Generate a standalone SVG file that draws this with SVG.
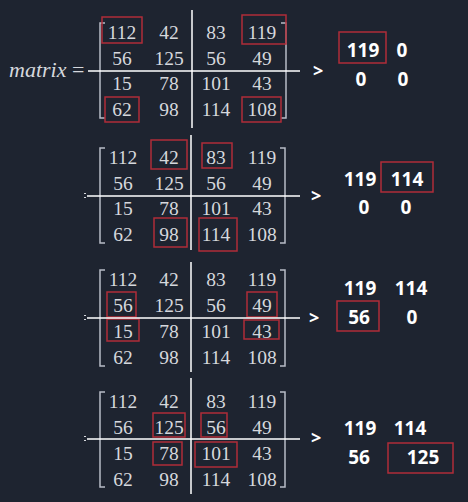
<svg xmlns="http://www.w3.org/2000/svg" width="468" height="502" viewBox="0 0 468 502">
<style>
.m{font-family:"Liberation Serif","Times New Roman",serif;font-size:19.5px;fill:#d6d8dd;text-anchor:middle}
.lbl{font-family:"Liberation Serif","Times New Roman",serif;font-size:22px;fill:#d6d8dd}
.r{font-family:"Open Sans","Noto Sans",sans-serif;font-weight:bold;font-size:19px;fill:#ffffff;text-anchor:middle}
.box{fill:none;stroke:#b02c38;stroke-width:1.5}
.ln{stroke:#ffffff;stroke-width:1.5;fill:none}
.br{stroke:#b8bcc6;stroke-width:1.5;fill:none}
.gt{font-family:"Open Sans","Noto Sans",sans-serif;font-weight:bold;font-size:18px;fill:#ffffff}
</style>
<rect width="468" height="502" fill="#1e2430"/>

<g id="panel1">
  <text class="lbl" x="9" y="77"><tspan font-style="italic">matrix</tspan><tspan x="72">=</tspan></text>
  <path class="br" d="M105,23 H100 V118 H105 M281,23 H286 V118 H281"/>
  <g transform="translate(0,38.5)">
    <text class="m" x="122" y="0">112</text><text class="m" x="169" y="0">42</text><text class="m" x="216" y="0">83</text><text class="m" x="262" y="0">119</text>
    <text class="m" x="122" y="26">56</text><text class="m" x="169" y="26">125</text><text class="m" x="216" y="26">56</text><text class="m" x="262" y="26">49</text>
    <text class="m" x="122" y="51">15</text><text class="m" x="169" y="51">78</text><text class="m" x="216" y="51">101</text><text class="m" x="262" y="51">43</text>
    <text class="m" x="122" y="77">62</text><text class="m" x="169" y="77">98</text><text class="m" x="216" y="77">114</text><text class="m" x="262" y="77">108</text>
  </g>
  <rect class="box" x="102" y="17" width="40" height="26"/>
  <rect class="box" x="242" y="15" width="44" height="29"/>
  <rect class="box" x="105" y="97" width="34" height="25"/>
  <rect class="box" x="242" y="97" width="39" height="25"/>
</g>

<g id="result1">
  <text class="gt" x="313" y="77">&gt;</text>
  <rect class="box" x="339" y="32" width="47" height="31"/>
  <text class="r" x="363" y="57">119</text><text class="r" x="402" y="57">0</text>
  <text class="r" x="361" y="86">0</text><text class="r" x="403" y="86">0</text>
</g>

<g id="panel2">
  <rect x="84" y="193" width="2" height="1" fill="#d6d8dd"/><rect x="84" y="197" width="2" height="1" fill="#d6d8dd"/>
  <path class="br" d="M105,148 H100 V243 H105 M280,148 H285 V243 H280"/>
  <g transform="translate(0,163.5)">
    <text class="m" x="123" y="0">112</text><text class="m" x="169" y="0">42</text><text class="m" x="216" y="0">83</text><text class="m" x="262" y="0">119</text>
    <text class="m" x="123" y="26">56</text><text class="m" x="169" y="26">125</text><text class="m" x="216" y="26">56</text><text class="m" x="262" y="26">49</text>
    <text class="m" x="123" y="51">15</text><text class="m" x="169" y="51">78</text><text class="m" x="216" y="51">101</text><text class="m" x="262" y="51">43</text>
    <text class="m" x="123" y="77">62</text><text class="m" x="169" y="77">98</text><text class="m" x="216" y="77">114</text><text class="m" x="262" y="77">108</text>
  </g>
  <rect class="box" x="151" y="140" width="36" height="29"/>
  <rect class="box" x="202" y="143" width="30" height="25"/>
  <rect class="box" x="154" y="218" width="33" height="29"/>
  <rect class="box" x="199" y="218" width="38" height="33"/>
</g>

<g id="result2">
  <text class="gt" x="311" y="202">&gt;</text>
  <rect class="box" x="381" y="162" width="52" height="30"/>
  <text class="r" x="360" y="186">119</text><text class="r" x="407" y="186">114</text>
  <text class="r" x="364" y="214">0</text><text class="r" x="406" y="214">0</text>
</g>

<g id="panel3">
  <rect x="84" y="315" width="2" height="1" fill="#d6d8dd"/><rect x="84" y="319" width="2" height="1" fill="#d6d8dd"/>
  <path class="br" d="M105,270 H100 V366 H105 M280,270 H285 V366 H280"/>
  <g transform="translate(0,285.5)">
    <text class="m" x="123" y="0">112</text><text class="m" x="169" y="0">42</text><text class="m" x="216" y="0">83</text><text class="m" x="262" y="0">119</text>
    <text class="m" x="123" y="26">56</text><text class="m" x="169" y="26">125</text><text class="m" x="216" y="26">56</text><text class="m" x="262" y="26">49</text>
    <text class="m" x="123" y="52">15</text><text class="m" x="169" y="52">78</text><text class="m" x="216" y="52">101</text><text class="m" x="262" y="52">43</text>
    <text class="m" x="123" y="78">62</text><text class="m" x="169" y="78">98</text><text class="m" x="216" y="78">114</text><text class="m" x="262" y="78">108</text>
  </g>
  <rect class="box" x="107" y="292" width="29" height="25"/>
  <rect class="box" x="107" y="319" width="32" height="22"/>
  <rect class="box" x="247" y="292" width="30" height="25"/>
  <rect class="box" x="244" y="320" width="35" height="19"/>
</g>

<g id="result3">
  <text class="gt" x="309" y="324">&gt;</text>
  <rect class="box" x="337" y="301" width="42" height="30"/>
  <text class="r" x="360" y="295">119</text><text class="r" x="411" y="295">114</text>
  <text class="r" x="359" y="324">56</text><text class="r" x="412" y="324">0</text>
</g>

<g id="panel4">
  <rect x="84" y="436" width="2" height="1" fill="#d6d8dd"/><rect x="84" y="440" width="2" height="1" fill="#d6d8dd"/>
  <path class="br" d="M105,392 H100 V487 H105 M280,392 H285 V487 H280"/>
  <g transform="translate(0,407.5)">
    <text class="m" x="123" y="0">112</text><text class="m" x="169" y="0">42</text><text class="m" x="216" y="0">83</text><text class="m" x="262" y="0">119</text>
    <text class="m" x="123" y="26">56</text><text class="m" x="169" y="26">125</text><text class="m" x="216" y="26">56</text><text class="m" x="262" y="26">49</text>
    <text class="m" x="123" y="52">15</text><text class="m" x="169" y="52">78</text><text class="m" x="216" y="52">101</text><text class="m" x="262" y="52">43</text>
    <text class="m" x="123" y="78">62</text><text class="m" x="169" y="78">98</text><text class="m" x="216" y="78">114</text><text class="m" x="262" y="78">108</text>
  </g>
  <rect class="box" x="153" y="413" width="32" height="24"/>
  <rect class="box" x="201" y="413" width="26" height="24"/>
  <rect class="box" x="153" y="442" width="29" height="23"/>
  <rect class="box" x="195" y="442" width="42" height="25"/>
</g>

<g id="result4">
  <text class="gt" x="311" y="444">&gt;</text>
  <rect class="box" x="388" y="443" width="65" height="30"/>
  <text class="r" x="360" y="435">119</text><text class="r" x="410" y="435">114</text>
  <text class="r" x="359" y="464">56</text><text class="r" x="423" y="464">125</text>
</g>

<g id="connectors">
  <path class="ln" d="M192,10 V128 M88,71 H300"/>
  <path class="ln" d="M191,135 V250 M87,196 H300"/>
  <path class="ln" d="M191,262 V372 M87,318 H300"/>
  <path class="ln" d="M191,378 V494 M87,439 H300"/>
</g>
</svg>
